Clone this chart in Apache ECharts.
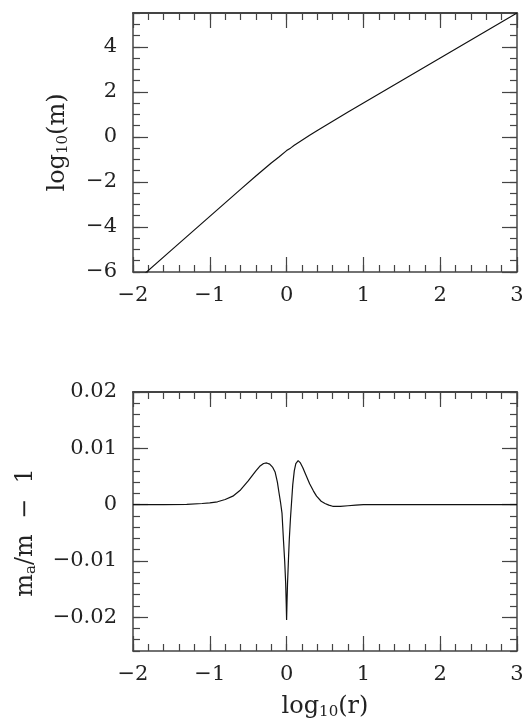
<!DOCTYPE html>
<html>
<head>
<meta charset="utf-8">
<script src="https://cdn.jsdelivr.net/npm/echarts@6/dist/echarts.min.js"></script>
<style>
html, body { margin: 0; padding: 0; background: #fff; }
#chart { width: 531px; height: 727px; }
</style>
</head>
<body>
<div id="chart"></div>
<script>
// top panel: log10(m) against log10(r)
const logR = [-2, -1.5, -1, -0.6, -0.4, -0.3, -0.2, -0.1, 0, 0.05, 0.1, 0.2, 0.3, 0.4, 0.6, 0.8, 1, 1.5, 2, 2.5, 3];
const logM = [-6.53, -5.03, -3.53, -2.33, -1.74, -1.45, -1.16, -0.89, -0.61, -0.5, -0.37, -0.145, 0.07, 0.285, 0.695, 1.1, 1.5, 2.5, 3.5, 4.5, 5.5];

// bottom panel: m_a/m - 1 against log10(r)
const logRb = [-2, -1.6, -1.3, -1.1, -1.0, -0.9, -0.8, -0.7, -0.6, -0.5, -0.45, -0.4, -0.35, -0.3, -0.26,
  -0.22, -0.18, -0.15, -0.12, -0.1, -0.08, -0.06, -0.04, -0.025, -0.012, -0.005, 0, 0.005, 0.012, 0.025,
  0.035, 0.05, 0.065, 0.08, 0.1, 0.12, 0.15, 0.18, 0.21, 0.25, 0.3, 0.35, 0.39, 0.45, 0.5,
  0.55, 0.6, 0.7, 0.8, 0.9, 1.0, 1.5, 2, 2.5, 3];
const massDiff = [0, 0, 0.00005, 0.0002, 0.0003, 0.0005, 0.0009, 0.0015, 0.0026, 0.0042, 0.0051, 0.0060, 0.0068, 0.0073, 0.0074,
  0.0072, 0.0066, 0.0058, 0.0040, 0.0022, 0.0005, -0.0015, -0.0065, -0.0100, -0.0140, -0.0175, -0.0205, -0.0175, -0.0140, -0.0095,
  -0.0062, -0.0025, 0.0005, 0.0035, 0.0060, 0.0073, 0.0078, 0.0074, 0.0066, 0.0053, 0.0037, 0.0024, 0.0015, 0.0006, 0.0002,
  -0.0001, -0.0003, -0.0003, -0.0002, -0.0001, 0, 0, 0, 0, 0];

// ticks
const xTicks = [-2, -1, 0, 1, 2, 3];
const xTickLabels = ['−2', '−1', '0', '1', '2', '3'];
const yTicksTop = [-6, -4, -2, 0, 2, 4];
const yTickLabelsTop = ['−6', '−4', '−2', '0', '2', '4'];
const yTicksBot = [-0.02, -0.01, 0, 0.01, 0.02];
const yTickLabelsBot = ['−0.02', '−0.01', '0', '0.01', '0.02'];

const font = 'DejaVu Serif';
const frame = '#444';
const ink = '#222';

const nameRich = {
  t: { fontFamily: font, fontSize: 24, color: ink },
  e: { fontFamily: font, fontSize: 24, color: ink, padding: [0, 22, 0, 0] },
  s: { fontFamily: font, fontSize: 15, color: ink, padding: [12, 0, 0, 0] }
};

// four axes per side pair: labelled major, minor, opposite major, opposite minor
function axesFor(dim, gridIndex, o) {
  const sides = dim === 'x' ? ['bottom', 'top'] : ['left', 'right'];
  const out = [];
  sides.forEach((pos, si) => {
    out.push({
      type: 'value', gridIndex, position: pos, min: o.min, max: o.max,
      name: si === 0 ? o.name : '',
      nameLocation: 'middle', nameGap: o.nameGap, nameRotate: dim === 'y' ? 90 : 0,
      nameTextStyle: { rich: nameRich },
      axisLine: { show: true, onZero: false, lineStyle: { color: frame, width: pos === 'top' ? 2 : 1.5 } },
      axisTick: { show: true, inside: true, length: 15, customValues: o.ticks, lineStyle: { color: frame, width: 1.2 } },
      axisLabel: {
        show: si === 0, customValues: o.ticks, margin: o.margin,
        fontFamily: font, fontSize: 21, color: ink,
        formatter: v => o.labels[o.ticks.findIndex(t => Math.abs(t - v) < 1e-9)]
      },
      splitLine: { show: false }
    });
    out.push({
      type: 'value', gridIndex, position: pos, min: o.min, max: o.max, interval: o.minor,
      axisLine: { show: false, onZero: false },
      axisTick: { show: true, inside: true, length: 7, lineStyle: { color: frame, width: 1.2 } },
      axisLabel: { show: false },
      splitLine: { show: false }
    });
  });
  return out;
}

const chart = echarts.init(document.getElementById('chart'));
chart.setOption({
  animation: false,
  backgroundColor: '#fff',
  grid: [
    { left: 133, right: 14, top: 13, height: 259, outerBoundsMode: 'none' },
    { left: 133, right: 14, top: 392, height: 259, outerBoundsMode: 'none' }
  ],
  xAxis: [
    ...axesFor('x', 0, { min: -2, max: 3, minor: 0.2, ticks: xTicks, labels: xTickLabels, margin: 13, name: '', nameGap: 0 }),
    ...axesFor('x', 1, { min: -2, max: 3, minor: 0.2, ticks: xTicks, labels: xTickLabels, margin: 13,
      name: '{t|log}{s|10}{t|(r)}', nameGap: 42 })
  ],
  yAxis: [
    ...axesFor('y', 0, { min: -6, max: 5.5, minor: 0.5, ticks: yTicksTop, labels: yTickLabelsTop, margin: 16,
      name: '{t|log}{s|10}{t|(m)}', nameGap: 62 }),
    ...axesFor('y', 1, { min: -0.026, max: 0.02, minor: 0.002, ticks: yTicksBot, labels: yTickLabelsBot, margin: 16,
      name: '{t|m}{s|a}{e|/m  −  1}', nameGap: 94 })
  ],
  series: [
    {
      type: 'line', xAxisIndex: 0, yAxisIndex: 0,
      data: logR.map((x, i) => [x, logM[i]]),
      showSymbol: false, clip: true,
      lineStyle: { color: '#111', width: 1.2 }
    },
    {
      type: 'line', xAxisIndex: 4, yAxisIndex: 4,
      data: logRb.map((x, i) => [x, massDiff[i]]),
      showSymbol: false, clip: true,
      lineStyle: { color: '#111', width: 1.2 }
    }
  ]
});
</script>
</body>
</html>
